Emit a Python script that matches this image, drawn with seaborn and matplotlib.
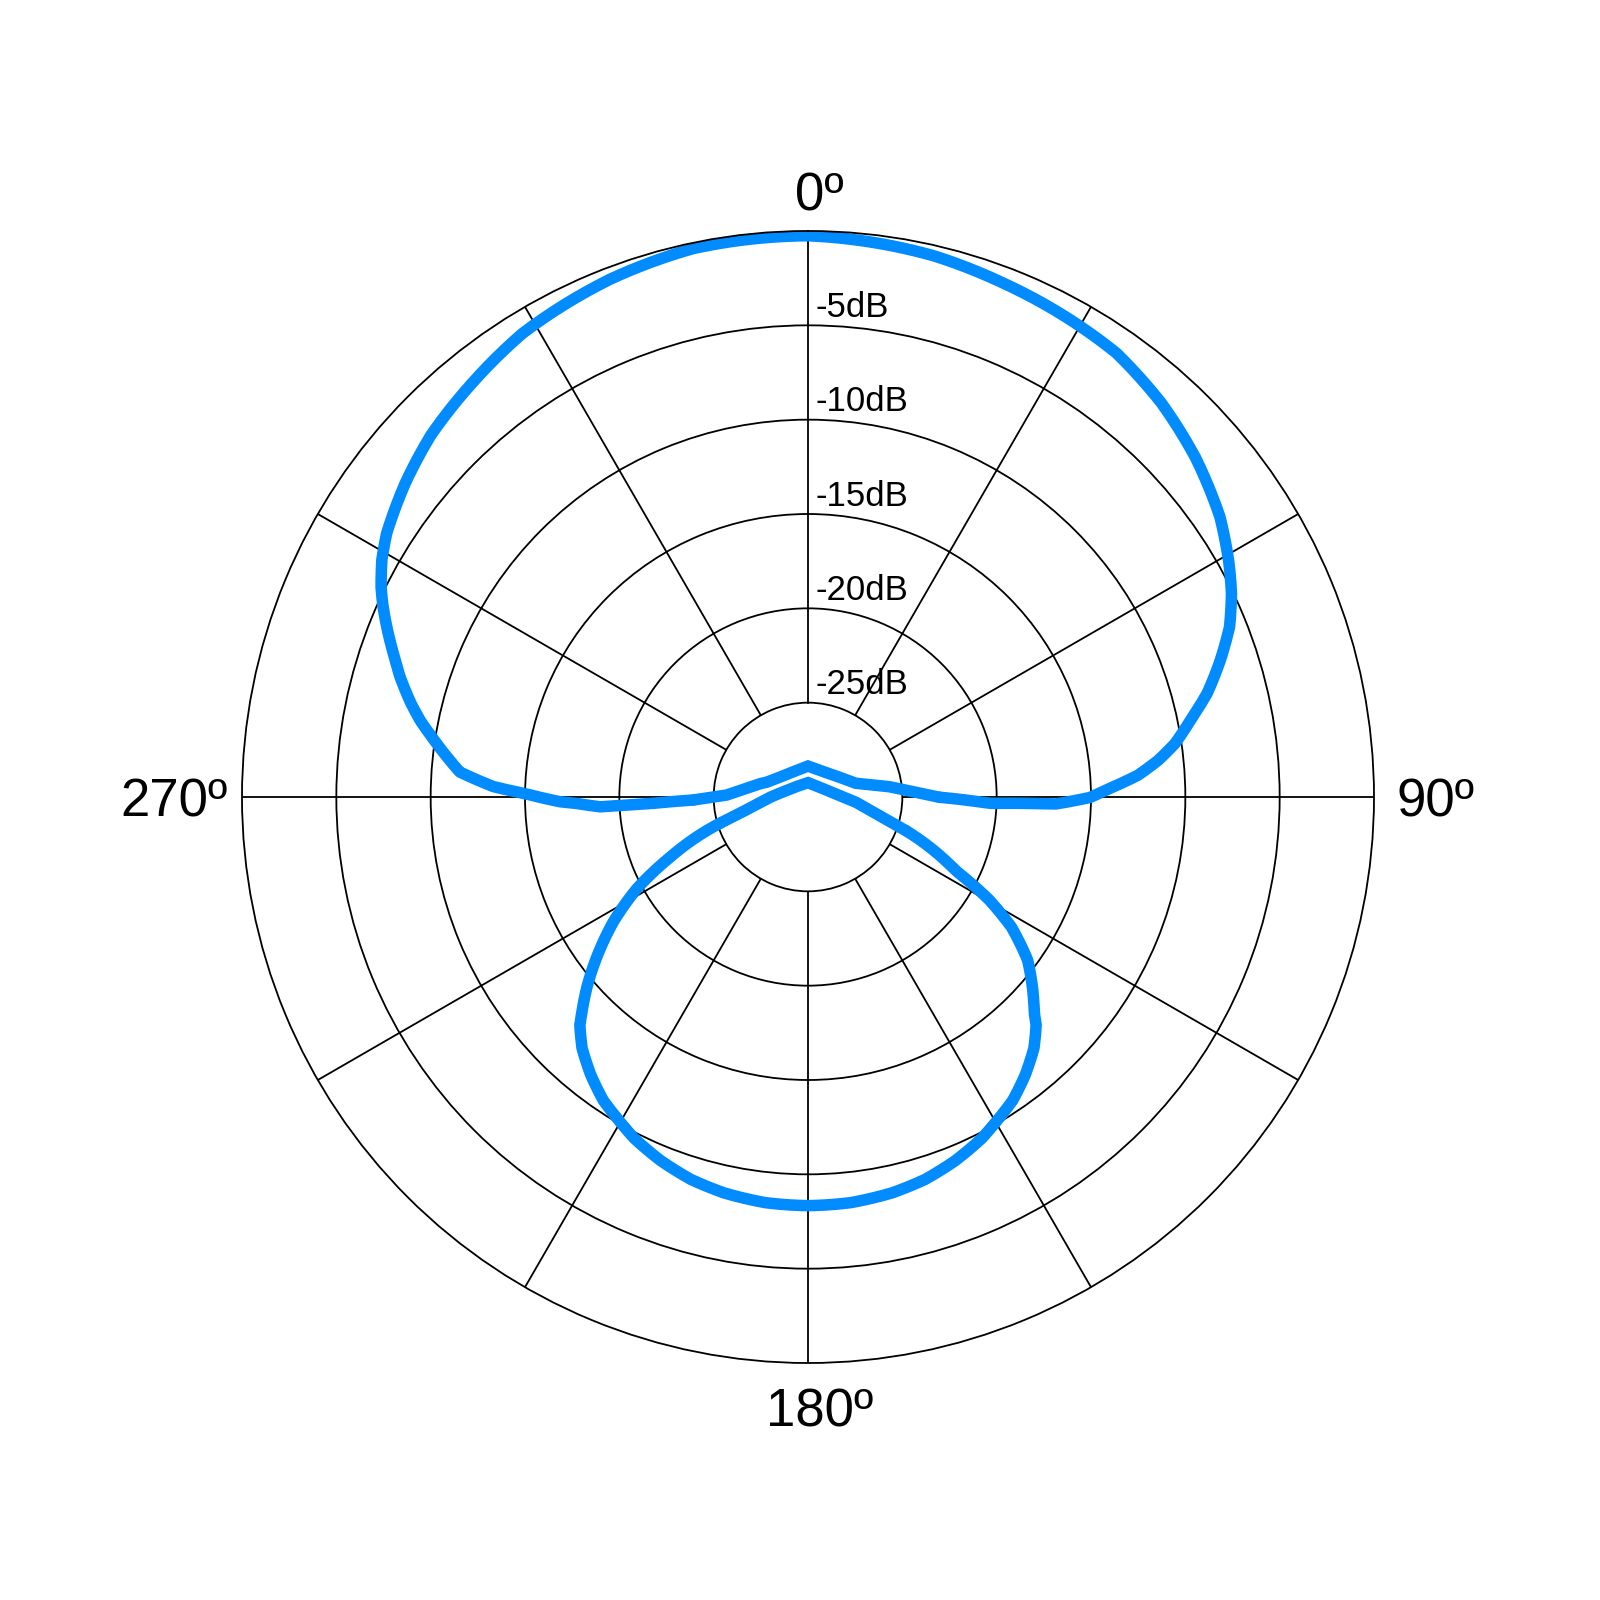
import numpy as np
import matplotlib
matplotlib.use('Agg')
import matplotlib.pyplot as plt
import seaborn as sns

# front lobe (angle in degrees clockwise from 0º, level in dB).
# Read as a closed loop: from the right-hand dip, over the top, down the left side,
# through the small cusp just above the centre and back.
FRONT_ANGLE_DEG = [90.1, 92.0, 91.7, 91.6, 90.1, 88.6, 86.2, 84.0, 81.7, 78.6, 75.4,
                   71.6, 68.0, 64.3, 60.8, 55.8, 48.8, 41.9, 34.8, 28.3, 20.5, 13.1,
                   0.0, -11.8, -20.9, -31.6, -39.1, -46.2, -52.1, -58.0, -60.9,
                   -63.8, -65.5, -67.3, -70.9, -73.6, -76.7, -78.9, -80.9, -83.4,
                   -85.9, -88.1, -89.4, -91.1, -91.6, -92.7, -92.4, -91.5, -88.6,
                   -74.0, -70.4, -54.0, -28.0, 0.0, 32.3, 58.6, 74.0, 82.8, 90.1]
FRONT_LEVEL_DB = [-23.04, -20.39, -18.76, -16.85, -15.06, -14.17, -12.46, -11.33,
                  -10.34, -9.31, -8.13, -6.96, -5.90, -5.09, -4.45, -3.60, -2.70,
                  -1.95, -1.35, -1.12, -0.85, -0.55, -0.25, -0.30, -0.62, -1.14,
                  -1.75, -2.30, -2.94, -3.66, -4.15, -4.78, -5.22, -5.72, -6.74,
                  -7.46, -8.37, -9.07, -9.80, -10.66, -11.50, -13.31, -15.10,
                  -16.86, -17.74, -18.97, -21.62, -23.92, -25.69, -27.40, -27.67,
                  -28.19, -28.46, -28.36, -28.42, -28.01, -27.36, -25.65, -23.04]

# rear lobe, same idea
BACK_ANGLE_DEG = [109.0, 116.5, 119.6, 122.6, 126.6, 130.2, 133.7, 135.0, 138.0,
                  142.0, 146.0, 150.0, 153.0, 158.0, 163.0, 168.0, 174.0, 180.0,
                  186.0, 192.0, 197.0, 202.0, 207.0, 210.0, 214.0, 218.0, 222.0,
                  225.0, 226.3, 229.4, 232.5, 237.3, 241.8, 246.4, 253.4, 257.9,
                  269.5, 277.1, 290.1, 315.5, 0.0, 63.9, 87.9, 96.3, 109.0]
BACK_LEVEL_DB = [-24.50, -21.24, -18.95, -17.20, -15.50, -14.43, -13.41, -12.90,
                 -12.10, -11.30, -10.60, -10.10, -9.70, -9.20, -8.80, -8.55, -8.38,
                 -8.34, -8.38, -8.55, -8.80, -9.20, -9.70, -10.10, -10.60, -11.30,
                 -12.10, -12.90, -13.41, -14.58, -15.81, -17.73, -19.70, -22.02,
                 -25.13, -26.59, -27.99, -28.46, -28.89, -29.20, -29.24, -29.05,
                 -28.29, -27.44, -24.50]

RING_DB = [-25, -20, -15, -10, -5]
RING_LABELS = [f'{v}dB' for v in RING_DB]
SPOKE_DEG = list(range(0, 360, 30))
COMPASS_DEG = [0, 90, 180, 270]
COMPASS_LABELS = ['0º', '90º', '180º', '270º']

BLUE = '#008CFF'
LW = 8.3


def split_lobe(deg, db, floor=-23.0):
    """Outer part of a lobe (level above floor) and the part near the centre."""
    deg, db = np.asarray(deg), np.asarray(db)
    outer = np.flatnonzero(db > floor)
    a, b = outer[0] - 1, outer[-1] + 1
    return (deg[a:b + 1], db[a:b + 1]), (deg[b:], db[b:])


sns.set_theme(style='white')
plt.rcParams['font.family'] = ['Liberation Sans', 'DejaVu Sans']

fig = plt.figure(figsize=(16, 16), dpi=100)
ax = fig.add_axes([0.15125, 0.148125, 0.7075, 0.7075], projection='polar')
ax.set_theta_zero_location('N')
ax.set_theta_direction(-1)

# grid: rings at every 5 dB, spokes every 30º starting at the -25 dB ring
ax.set_xticks([])
ax.set_yticks(RING_DB)
ax.set_yticklabels([])
ax.xaxis.grid(False)
ax.yaxis.grid(True, color='black', linewidth=1.3)
ax.spines['polar'].set_color('black')
ax.spines['polar'].set_linewidth(1.3)
ax.vlines(np.deg2rad(SPOKE_DEG), RING_DB[0], 0, colors='black', linewidth=1.3)

for angles, levels in [(FRONT_ANGLE_DEG, FRONT_LEVEL_DB), (BACK_ANGLE_DEG, BACK_LEVEL_DB)]:
    (o_deg, o_db), (i_deg, i_db) = split_lobe(angles, levels)

    # outer part: let the polar transform follow the angle between readings
    sns.lineplot(x=np.deg2rad(o_deg), y=o_db, sort=False, estimator=None,
                 color=BLUE, linewidth=LW, solid_joinstyle='round',
                 solid_capstyle='round', ax=ax)
    line = ax.lines[-1]
    line.get_path()._interpolation_steps = 24
    line.set_data(*line.get_data())

    # near the centre: plain segments with a pointed cusp
    sns.lineplot(x=np.deg2rad(i_deg), y=i_db, sort=False, estimator=None,
                 color=BLUE, linewidth=LW, solid_joinstyle='miter',
                 solid_capstyle='round', ax=ax)

ax.set_ylim(-30, 0)
ax.set_xlabel('')
ax.set_ylabel('')

# dB labels just right of the 0º spoke, above each ring
for v, lab in zip(RING_DB, RING_LABELS):
    ax.annotate(lab, xy=(0, v), xytext=(5.2, 6), textcoords='offset points',
                ha='left', va='baseline', fontsize=25, color='black',
                annotation_clip=False)

# compass labels around the outer ring
compass_style = {
    0: dict(xytext=(7.9, 15), ha='center'),
    90: dict(xytext=(16.5, -13.9), ha='left'),
    180: dict(xytext=(8.6, -45.7), ha='center'),
    270: dict(xytext=(-10, -13.9), ha='right'),
}
for d, lab in zip(COMPASS_DEG, COMPASS_LABELS):
    st = compass_style[d]
    ax.annotate(lab, xy=(np.deg2rad(d), 0), xytext=st['xytext'],
                textcoords='offset points', ha=st['ha'], va='baseline',
                fontsize=38, color='black', annotation_clip=False)

fig.savefig('out.png', dpi=100)
plt.close(fig)
